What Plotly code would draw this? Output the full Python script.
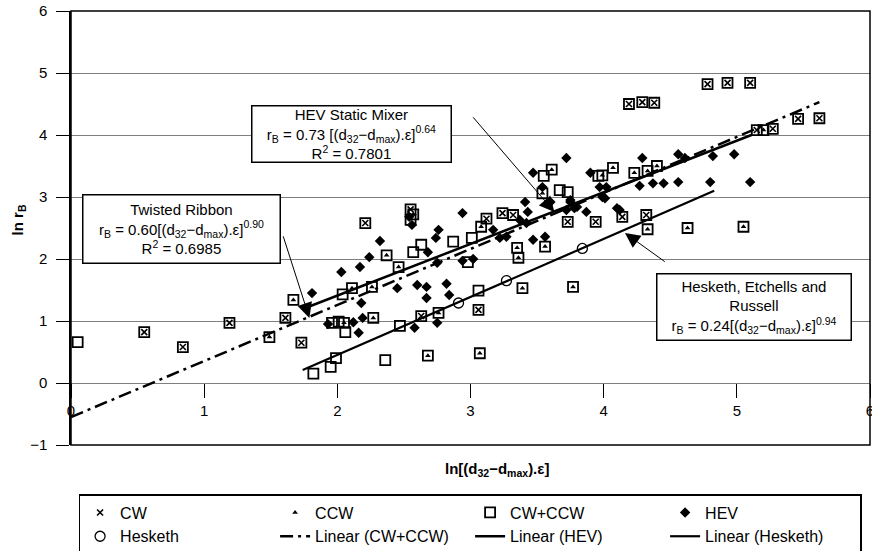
import plotly.graph_objects as go

FONT = "Liberation Sans, Arial, Helvetica, sans-serif"

# ---------------- data ----------------
# squares with an "x" inside -> CW
cw_x = [0.55, 0.84, 1.19, 1.61, 1.73, 2.21, 2.63, 3.06, 3.73, 3.94, 4.14, 4.32,
        4.78, 4.93, 5.10, 4.19, 4.29, 4.38, 5.46, 5.62, 5.15, 5.27, 3.24, 3.32,
        3.12, 2.55]
cw_y = [0.82, 0.58, 0.97, 1.05, 0.65, 2.58, 1.08, 1.18, 2.60, 2.60, 2.68, 2.71,
        4.82, 4.84, 4.84, 4.50, 4.53, 4.52, 4.26, 4.27, 4.08, 4.10, 2.74, 2.71,
        2.65, 2.80]

# squares with a triangle inside -> CCW
ccw_x = [1.49, 1.67, 3.08, 3.39, 3.35, 3.36, 3.56, 2.37, 4.33, 4.63, 5.05, 3.54,
         3.61, 4.07, 4.40, 2.46, 2.68, 3.07, 2.76, 2.11, 2.26, 2.05, 2.27, 3.77,
         3.99, 4.23, 4.33, 5.20, 2.57]
ccw_y = [0.74, 1.34, 2.52, 1.53, 2.18, 2.02, 2.20, 2.06, 2.48, 2.50, 2.52, 3.06,
         3.44, 3.47, 3.50, 1.87, 0.44, 0.48, 1.13, 1.53, 1.55, 0.97, 1.05, 1.55,
         3.35, 3.39, 3.42, 4.08, 2.72]

# all squares -> CW+CCW
cwccw_x = [0.05, 0.55, 0.84, 1.19, 1.49, 1.61, 1.67, 1.73, 1.82, 1.95, 1.99, 2.36,
           2.47, 2.06, 1.96, 2.01, 2.05, 2.27, 2.04, 2.11, 2.26, 2.21, 2.37, 2.46,
           2.55, 2.57, 2.55, 2.57, 2.63, 2.63, 2.68, 2.76, 2.87, 2.98, 3.01, 3.06,
           3.06, 3.07, 3.08, 3.12, 3.24, 3.32, 3.35, 3.36, 3.39, 3.54, 3.55, 3.56,
           3.61, 3.67, 3.73, 3.73, 3.77, 3.94, 3.96, 3.99, 4.07, 4.14, 4.19, 4.23,
           4.29, 4.32, 4.33, 4.33, 4.38, 4.40, 4.63, 4.78, 4.93, 5.05, 5.10, 5.15,
           5.20, 5.27, 5.46, 5.62]
cwccw_y = [0.66, 0.82, 0.58, 0.97, 0.74, 1.05, 1.34, 0.65, 0.15, 0.26, 0.40, 0.37,
           0.92, 0.82, 0.97, 0.99, 0.97, 1.05, 1.43, 1.53, 1.55, 2.58, 2.06, 1.87,
           2.80, 2.72, 2.63, 2.11, 2.23, 1.08, 0.44, 1.13, 2.28, 1.95, 2.34, 1.49,
           1.18, 0.48, 2.52, 2.65, 2.74, 2.71, 2.18, 2.02, 1.53, 3.06, 3.34, 2.20,
           3.44, 3.11, 3.08, 2.60, 1.55, 2.60, 3.34, 3.35, 3.47, 2.68, 4.50, 3.39,
           4.53, 2.71, 3.42, 2.48, 4.52, 3.50, 2.50, 4.82, 4.84, 2.52, 4.84, 4.08,
           4.08, 4.10, 4.26, 4.27]

hev_x = [3.72, 3.47, 3.90, 3.54, 3.60, 3.41, 3.43, 3.75, 3.80, 3.87, 3.37, 3.42,
         2.94, 2.76, 2.74, 3.17, 3.22, 3.27, 3.47, 2.32, 2.68, 2.24, 3.02, 2.94,
         2.17, 2.03, 2.75, 2.45, 2.60, 2.67, 2.82, 1.81, 2.18, 2.67, 2.84, 2.12,
         2.19, 1.93, 2.16, 2.58, 2.75, 4.56, 4.61, 4.82, 4.98, 4.29, 3.97, 4.02,
         4.27, 4.37, 4.45, 4.56, 4.80, 5.10, 3.75, 3.99, 4.01, 3.72, 3.78, 4.12,
         4.10, 3.56, 2.54, 2.56]
hev_y = [3.63, 3.39, 3.39, 3.16, 2.92, 2.92, 2.76, 2.92, 2.84, 2.76, 2.63, 2.58,
         2.74, 2.47, 2.34, 2.47, 2.34, 2.36, 2.31, 2.29, 2.11, 2.03, 2.00, 1.97,
         1.87, 1.79, 1.94, 1.53, 1.58, 1.55, 1.60, 1.45, 1.29, 1.37, 1.42, 0.98,
         1.05, 0.95, 0.81, 0.89, 0.97, 3.69, 3.63, 3.66, 3.69, 3.63, 3.16, 3.16,
         3.18, 3.22, 3.22, 3.24, 3.24, 3.24, 2.95, 3.00, 2.98, 2.79, 2.82, 2.79,
         2.82, 2.36, 2.68, 2.55]

hesketh_x = [2.91, 3.27, 3.84]
hesketh_y = [1.29, 1.65, 2.17]

# fitted lines (end points)
lin_cwccw_x = [0.0, 5.62]
lin_cwccw_y = [-0.55, 4.53]
lin_hev_x = [1.76, 5.11]
lin_hev_y = [1.21, 4.00]
lin_hesk_x = [1.74, 4.83]
lin_hesk_y = [0.21, 3.10]

x_ticks = [0, 1, 2, 3, 4, 5, 6]
y_ticks = [-1, 0, 1, 2, 3, 4, 5, 6]

# ---------------- figure ----------------
fig = go.Figure()

fig.add_trace(go.Scatter(x=cw_x, y=cw_y, mode="markers", name="CW",
                         marker=dict(symbol="x-thin-open", size=6, color="black",
                                     line=dict(width=1.6, color="black"))))
fig.add_trace(go.Scatter(x=ccw_x, y=ccw_y, mode="markers", name="CCW",
                         marker=dict(symbol="triangle-up", size=5, color="black",
                                     line=dict(width=0))))
fig.add_trace(go.Scatter(x=cwccw_x, y=cwccw_y, mode="markers", name="CW+CCW",
                         marker=dict(symbol="square-open", size=10, color="black",
                                     line=dict(width=1.8, color="black"))))
fig.add_trace(go.Scatter(x=hev_x, y=hev_y, mode="markers", name="HEV",
                         marker=dict(symbol="diamond", size=8, color="black",
                                     line=dict(width=0))))
fig.add_trace(go.Scatter(x=hesketh_x, y=hesketh_y, mode="markers", name="Hesketh",
                         marker=dict(symbol="circle-open", size=10, color="black",
                                     line=dict(width=1.3, color="black"))))
fig.add_trace(go.Scatter(x=lin_cwccw_x, y=lin_cwccw_y, mode="lines",
                         name="Linear (CW+CCW)",
                         line=dict(color="black", width=2.5, dash="13px,5px,3px,5px")))
fig.add_trace(go.Scatter(x=lin_hev_x, y=lin_hev_y, mode="lines", name="Linear (HEV)",
                         line=dict(color="black", width=2.5)))
fig.add_trace(go.Scatter(x=lin_hesk_x, y=lin_hesk_y, mode="lines",
                         name="Linear (Hesketh)",
                         line=dict(color="black", width=2.2)))

box_font = dict(family=FONT, size=15, color="black")
eq = "[(d<sub>32</sub>−d<sub>max</sub>).ε]"
annotations = [
    dict(x=2.11, y=4.02, xref="x", yref="y", showarrow=False,
         text="HEV Static Mixer<br>r<sub>B</sub> = 0.73 " + eq + "<sup>0.64</sup><br>R<sup>2</sup> = 0.7801",
         font=box_font, bgcolor="white", bordercolor="black", borderwidth=1.5,
         borderpad=2, width=194, height=51, align="center"),
    dict(x=0.83, y=2.49, xref="x", yref="y", showarrow=False,
         text="Twisted Ribbon<br>r<sub>B</sub> = 0.60" + eq + "<sup>0.90</sup><br>R<sup>2</sup> = 0.6985",
         font=box_font, bgcolor="white", bordercolor="black", borderwidth=1.5,
         borderpad=2, width=192, height=63, align="center"),
    dict(x=5.13, y=1.22, xref="x", yref="y", showarrow=False,
         text="Hesketh, Etchells and<br>Russell<br>r<sub>B</sub> = 0.24" + eq + "<sup>0.94</sup>",
         font=box_font, bgcolor="white", bordercolor="black", borderwidth=1.5,
         borderpad=2, width=189, height=61, align="center"),
    # arrows
    dict(x=3.63, y=2.76, ax=3.01, ay=4.31, xref="x", yref="y", axref="x", ayref="y",
         text="", showarrow=True, arrowhead=2, arrowsize=3, arrowwidth=1,
         arrowcolor="black", standoff=0),
    dict(x=1.79, y=1.05, ax=1.59, ay=2.39, xref="x", yref="y", axref="x", ayref="y",
         text="", showarrow=True, arrowhead=2, arrowsize=3, arrowwidth=1,
         arrowcolor="black", standoff=0),
    dict(x=4.16, y=2.42, ax=4.47, ay=1.94, xref="x", yref="y", axref="x", ayref="y",
         text="", showarrow=True, arrowhead=2, arrowsize=3, arrowwidth=1,
         arrowcolor="black", standoff=0),
    # axis titles
    dict(x=0.533, y=-0.0576, xref="paper", yref="paper", showarrow=False,
         text="<b>ln[(d<sub>32</sub>−d<sub>max</sub>).ε]</b>",
         font=dict(family=FONT, size=15, color="black"), xanchor="center", yanchor="middle"),
    dict(x=-0.066, y=0.518, xref="paper", yref="paper", showarrow=False,
         text="<b>ln r<sub>B</sub></b>", textangle=-90,
         font=dict(family=FONT, size=15, color="black"), xanchor="center", yanchor="middle"),
]

fig.update_layout(
    width=872, height=551,
    margin=dict(l=71, r=2, t=11, b=106, autoexpand=False),
    paper_bgcolor="white", plot_bgcolor="white",
    font=dict(family=FONT, size=15, color="black"),
    showlegend=True,
    legend=dict(orientation="h", x=0.0095, y=-0.113, xanchor="left", yanchor="top",
                entrywidth=150, entrywidthmode="pixels", traceorder="normal",
                bordercolor="black", borderwidth=1.5, bgcolor="white",
                font=dict(family=FONT, size=16, color="black")),
    annotations=annotations,
    shapes=[dict(type="rect", xref="x domain", yref="y domain", x0=0, x1=1, y0=0, y1=1,
                 line=dict(color="black", width=1.5), layer="above")],
)

fig.update_xaxes(range=[0, 6], tickvals=x_ticks, showgrid=False, zeroline=False,
                 showline=False, anchor="free", position=1 / 7, ticks="outside",
                 ticklen=14, tickwidth=1, tickcolor="black", ticklabeloverflow="allow",
                 tickfont=dict(family=FONT, size=15, color="black"))
fig.update_yaxes(range=[-1, 6], tickvals=y_ticks, showgrid=True, gridcolor="#7f7f7f",
                 gridwidth=1, zeroline=False, showline=True, linecolor="black",
                 linewidth=1.5, ticks="outside", ticklen=13, tickwidth=1,
                 tickcolor="black", ticklabelstandoff=6,
                 tickfont=dict(family=FONT, size=15, color="black"))

fig.write_html("out.html")
